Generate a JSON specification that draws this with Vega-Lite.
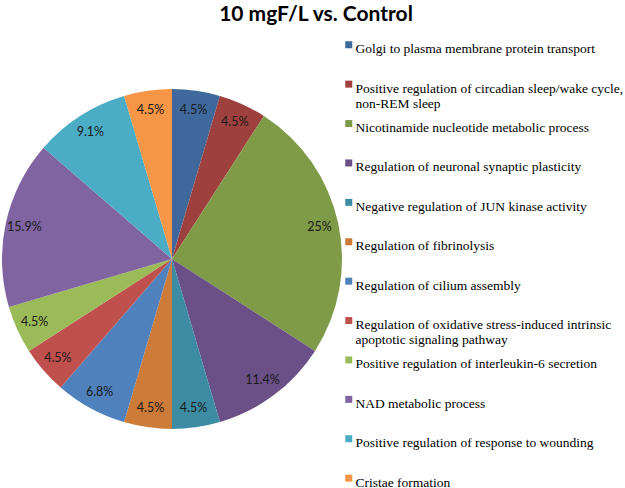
{
  "$schema": "https://vega.github.io/schema/vega-lite/v6.json",
  "width": 344,
  "height": 456,
  "padding": {"left": 0, "top": 4, "right": 0, "bottom": 0},
  "background": "white",
  "title": {
    "text": "10 mgF/L vs. Control",
    "font": "Lato",
    "fontSize": 21,
    "fontWeight": "bold",
    "color": "#000000",
    "anchor": "middle",
    "frame": "group",
    "dx": 144,
    "offset": 6
  },
  "data": {
    "values": [
      {"order": 1, "category": "Golgi to plasma membrane protein transport|", "count": 2, "pct": "4.5%"},
      {"order": 2, "category": "Positive regulation of circadian sleep/wake cycle,|non-REM sleep", "count": 2, "pct": "4.5%"},
      {"order": 3, "category": "Nicotinamide nucleotide metabolic process|", "count": 11, "pct": "25%"},
      {"order": 4, "category": "Regulation of neuronal synaptic plasticity|", "count": 5, "pct": "11.4%"},
      {"order": 5, "category": "Negative regulation of JUN kinase activity|", "count": 2, "pct": "4.5%"},
      {"order": 6, "category": "Regulation of fibrinolysis|", "count": 2, "pct": "4.5%"},
      {"order": 7, "category": "Regulation of cilium assembly|", "count": 3, "pct": "6.8%"},
      {"order": 8, "category": "Regulation of oxidative stress-induced intrinsic|apoptotic signaling pathway", "count": 2, "pct": "4.5%"},
      {"order": 9, "category": "Positive regulation of interleukin-6 secretion|", "count": 2, "pct": "4.5%"},
      {"order": 10, "category": "NAD metabolic process|", "count": 7, "pct": "15.9%"},
      {"order": 11, "category": "Positive regulation of response to wounding|", "count": 4, "pct": "9.1%"},
      {"order": 12, "category": "Cristae formation|", "count": 2, "pct": "4.5%"}
    ]
  },
  "encoding": {
    "theta": {"field": "count", "type": "quantitative", "stack": true},
    "order": {"field": "order", "type": "quantitative"}
  },
  "layer": [
    {
      "mark": {"type": "arc", "outerRadius": 170},
      "encoding": {
        "color": {
          "field": "category",
          "type": "nominal",
          "sort": null,
          "scale": {
            "domain": [
              "Golgi to plasma membrane protein transport|",
              "Positive regulation of circadian sleep/wake cycle,|non-REM sleep",
              "Nicotinamide nucleotide metabolic process|",
              "Regulation of neuronal synaptic plasticity|",
              "Negative regulation of JUN kinase activity|",
              "Regulation of fibrinolysis|",
              "Regulation of cilium assembly|",
              "Regulation of oxidative stress-induced intrinsic|apoptotic signaling pathway",
              "Positive regulation of interleukin-6 secretion|",
              "NAD metabolic process|",
              "Positive regulation of response to wounding|",
              "Cristae formation|"
            ],
            "range": ["#3F699C", "#9E413E", "#7F9B48", "#6A5087", "#3C8DA4", "#CC7B38", "#4F81BD", "#C0504D", "#9BBB59", "#8064A2", "#4BACC6", "#F79646"]
          },
          "legend": {
            "title": null,
            "orient": "none",
            "legendX": 342,
            "legendY": 7,
            "padding": 0,
            "symbolType": "square",
            "symbolSize": 49,
            "symbolStrokeWidth": 0,
            "labelFont": "Liberation Serif",
            "labelFontSize": 13.5,
            "labelColor": "#000000",
            "labelLimit": 320,
            "labelOffset": 0,
            "labelBaseline": "middle",
            "rowPadding": 6.4,
            "labelExpr": "split(datum.label, '|')",
            "encode": {
              "labels": {"update": {"dy": {"value": 4.5}, "lineHeight": {"value": 15}}}
            }
          }
        }
      }
    },
    {
      "mark": {"type": "text", "radius": 151, "font": "Lato", "fontSize": 12.5, "color": "#1a1a1a"},
      "encoding": {
        "text": {"field": "pct", "type": "nominal"}
      }
    }
  ],
  "config": {"view": {"stroke": null}}
}
